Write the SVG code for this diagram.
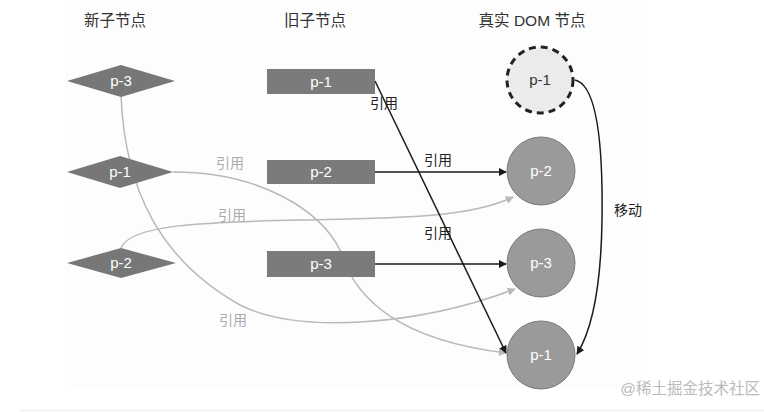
<svg xmlns="http://www.w3.org/2000/svg" width="764" height="412" viewBox="0 0 764 412">
<style>
.hdr{font-family:"Liberation Sans","Noto Sans CJK SC",sans-serif;font-size:15.5px;fill:#333;text-anchor:middle}
.lbl{font-family:"Liberation Sans","Noto Sans CJK SC",sans-serif;font-size:15px;fill:#fff;text-anchor:middle}
.lblk{font-family:"Liberation Sans","Noto Sans CJK SC",sans-serif;font-size:15px;fill:#333;text-anchor:middle}
.el{font-family:"Liberation Sans","Noto Sans CJK SC",sans-serif;font-size:14px;text-anchor:middle}
.dia{fill:#777}
.rect{fill:#7b7b7b}
.circ{fill:#9a9a9a;stroke:#7a7a7a;stroke-width:1}
.blk{fill:none;stroke:#1a1a1a;stroke-width:1.5}
.gry{fill:none;stroke:#b9b9b9;stroke-width:1.5}
</style>
<defs>
<marker id="ab" viewBox="0 0 10 10" refX="9" refY="5" markerWidth="8" markerHeight="8" orient="auto" markerUnits="userSpaceOnUse"><path d="M0,0 L10,5 L0,10 z" fill="#1a1a1a"/></marker>
<marker id="ag" viewBox="0 0 10 10" refX="9" refY="5" markerWidth="8" markerHeight="8" orient="auto" markerUnits="userSpaceOnUse"><path d="M0,0 L10,5 L0,10 z" fill="#b9b9b9"/></marker>
</defs>
<rect x="0" y="0" width="764" height="412" fill="#ffffff"/>
<rect x="66" y="0" width="576" height="388" fill="#fdfdfd"/>
<line x1="20" y1="410.5" x2="764" y2="410.5" stroke="#eef0f4" stroke-width="1.5"/>

<g id="headers">
<text class="hdr" x="115" y="26">新子节点</text>
<text class="hdr" x="315" y="26">旧子节点</text>
<text class="hdr" x="532" y="26">真实 DOM 节点</text>
</g>

<g id="connectors">
<path class="gry" d="M121,96 C125,190 160,260 240,305 C300,335 420,325 515,289" marker-end="url(#ag)"/>
<path class="gry" d="M173,172 C260,172 320,210 340,250 C355,300 400,340 506,353" marker-end="url(#ag)"/>
<path class="gry" d="M121,248 C130,225 200,222 300,220 C400,218 470,218 513,197" marker-end="url(#ag)"/>
<path class="blk" d="M375,81 L506,353" marker-end="url(#ab)"/>
<path class="blk" d="M375,172 L506,172" marker-end="url(#ab)"/>
<path class="blk" d="M375,264 L506,264" marker-end="url(#ab)"/>
<path class="blk" d="M575,80 C598,85 603,150 602,220 C601,290 592,330 577,354" marker-end="url(#ab)"/>
<text class="el" x="230" y="168" fill="#aaa">引用</text>
<text class="el" x="232" y="220" fill="#aaa">引用</text>
<text class="el" x="233" y="325" fill="#aaa">引用</text>
<text class="el" x="384" y="108" fill="#222">引用</text>
<text class="el" x="438" y="165" fill="#222">引用</text>
<text class="el" x="438" y="238" fill="#222">引用</text>
<text class="el" x="628" y="215" fill="#222">移动</text>
</g>

<g id="new-p3"><polygon class="dia" points="67,81 121,65 175,81 121,97"/><text class="lbl" x="121" y="86">p-3</text></g>
<g id="new-p1"><polygon class="dia" points="67,172 120,156 173,172 120,188"/><text class="lbl" x="120" y="177">p-1</text></g>
<g id="new-p2"><polygon class="dia" points="67,263 121,248 176,263 121,278"/><text class="lbl" x="121" y="268">p-2</text></g>

<g id="old-p1"><rect class="rect" x="267" y="69" width="108" height="25"/><text class="lbl" x="321" y="87">p-1</text></g>
<g id="old-p2"><rect class="rect" x="267" y="160" width="108" height="24"/><text class="lbl" x="321" y="177">p-2</text></g>
<g id="old-p3"><rect class="rect" x="267" y="251" width="108" height="26"/><text class="lbl" x="321" y="269">p-3</text></g>

<g id="dom-p1-old"><circle cx="540" cy="80" r="33" fill="#ebebeb" stroke="#222" stroke-width="3" stroke-dasharray="7,5"/><text class="lblk" x="540" y="85">p-1</text></g>
<g id="dom-p2"><circle class="circ" cx="541" cy="171" r="34"/><text class="lbl" x="541" y="176">p-2</text></g>
<g id="dom-p3"><circle class="circ" cx="541" cy="263" r="34"/><text class="lbl" x="541" y="268">p-3</text></g>
<g id="dom-p1"><circle class="circ" cx="541" cy="355" r="34"/><text class="lbl" x="541" y="360">p-1</text></g>

<text x="760" y="394" font-family="Liberation Sans,Noto Sans CJK SC,sans-serif" font-size="15.5" fill="#bbb" text-anchor="end">@稀土掘金技术社区</text>
</svg>
